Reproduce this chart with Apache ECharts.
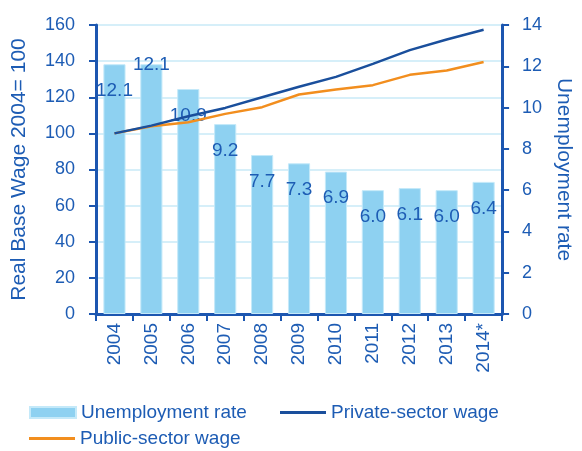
<!DOCTYPE html>
<html>
<head>
<meta charset="utf-8">
<script src="https://cdn.jsdelivr.net/npm/echarts@6/dist/echarts.min.js"></script>
<style>
  html, body { margin: 0; padding: 0; background: #fff; }
  #chart { width: 582px; height: 451px; }
</style>
</head>
<body>
<div id="chart"></div>
<script>
// Years on the category axis
const years = ['2004', '2005', '2006', '2007', '2008', '2009', '2010', '2011', '2012', '2013', '2014*'];
// Unemployment rate, % (right axis)
const unemploymentRate = [12.1, 12.1, 10.9, 9.2, 7.7, 7.3, 6.9, 6.0, 6.1, 6.0, 6.4];
// Real base wage index, 2004 = 100 (left axis)
const privateWage = [100, 104.3, 109.5, 114.1, 120, 125.8, 131.3, 138.5, 146.1, 152, 157.4];
const publicWage = [100, 104, 106.2, 110.8, 114.5, 121.5, 124.3, 126.7, 132.4, 134.8, 139.5];
// Tick values
const wageTicks = [0, 20, 40, 60, 80, 100, 120, 140, 160];
const rateTicks = [0, 2, 4, 6, 8, 10, 12, 14];

const TEXT = '#1d5cb4';
const AXIS = '#1c56b0';
const FONT = '"Liberation Sans", Arial, sans-serif';
const LINE_ICON = 'path://M0,0 L46,0 L46,3 L0,3 Z';

// The 2005 value label sits at the bar top rather than inside it
const raisedLabel = { '2005': [0, -26] };

const barData = unemploymentRate.map((v, i) => {
  const shift = raisedLabel[years[i]];
  return shift ? { value: v, label: { offset: shift } } : v;
});

const legendText = { fontSize: 19, color: TEXT, fontFamily: FONT };

const chart = echarts.init(document.getElementById('chart'), null, { renderer: 'canvas' });

chart.setOption({
  backgroundColor: '#ffffff',
  animation: false,
  textStyle: { fontFamily: FONT, color: TEXT },
  grid: { left: 96, right: 79, top: 25, bottom: 137, containLabel: false },
  legend: [
    {
      left: 29, top: 403, padding: 0, itemWidth: 46, itemHeight: 11, itemGap: 5,
      data: [{ name: 'Unemployment rate', icon: 'rect' }],
      textStyle: legendText
    },
    {
      left: 280, top: 403, padding: 0, itemWidth: 46, itemHeight: 3,
      data: [{ name: 'Private-sector wage', icon: LINE_ICON }],
      textStyle: legendText
    },
    {
      left: 29, top: 429, padding: 0, itemWidth: 46, itemHeight: 3,
      data: [{ name: 'Public-sector wage', icon: LINE_ICON }],
      textStyle: legendText
    }
  ],
  xAxis: {
    type: 'category',
    data: years,
    boundaryGap: true,
    axisLine: { show: true, lineStyle: { color: AXIS, width: 3 } },
    axisTick: { show: true, length: 7, lineStyle: { color: AXIS, width: 2 } },
    axisLabel: { rotate: 90, fontSize: 19, color: TEXT, margin: 9, fontFamily: FONT }
  },
  yAxis: [
    {
      type: 'value',
      min: wageTicks[0], max: wageTicks[wageTicks.length - 1], interval: 20,
      name: 'Real Base Wage 2004= 100',
      nameLocation: 'middle', nameGap: 66,
      nameTextStyle: { fontSize: 21, color: TEXT, fontFamily: FONT },
      axisLine: { show: true, lineStyle: { color: AXIS, width: 3 } },
      axisTick: { show: true, length: 7, lineStyle: { color: AXIS, width: 2 } },
      axisLabel: { fontSize: 18, color: TEXT, margin: 21, fontFamily: FONT },
      splitLine: { show: true, lineStyle: { color: '#d6eff9', width: 2 } }
    },
    {
      type: 'value',
      position: 'right',
      min: rateTicks[0], max: rateTicks[rateTicks.length - 1], interval: 2,
      name: 'Unemployment rate',
      nameLocation: 'middle', nameGap: 48, nameRotate: -90,
      nameTextStyle: { fontSize: 21, color: TEXT, fontFamily: FONT },
      axisLine: { show: true, lineStyle: { color: AXIS, width: 3 } },
      axisTick: { show: true, length: 7, lineStyle: { color: AXIS, width: 2 } },
      axisLabel: { fontSize: 18, color: TEXT, margin: 20, fontFamily: FONT },
      splitLine: { show: false }
    }
  ],
  series: [
    {
      name: 'Unemployment rate',
      type: 'bar',
      yAxisIndex: 1,
      data: barData,
      barWidth: '60%',
      itemStyle: { color: '#8ed1f1', borderColor: '#c4e9f9', borderWidth: 1 },
      label: {
        show: true,
        position: 'insideTop',
        distance: 17,
        fontSize: 19,
        color: TEXT,
        fontFamily: FONT,
        formatter: p => Number(p.value).toFixed(1)
      },
      z: 1
    },
    {
      name: 'Private-sector wage',
      type: 'line',
      yAxisIndex: 0,
      data: privateWage,
      symbol: 'none',
      lineStyle: { color: '#1a4f9c', width: 2.5 },
      itemStyle: { color: '#1a4f9c' },
      z: 3
    },
    {
      name: 'Public-sector wage',
      type: 'line',
      yAxisIndex: 0,
      data: publicWage,
      symbol: 'none',
      lineStyle: { color: '#f28e1e', width: 2.5 },
      itemStyle: { color: '#f28e1e' },
      z: 2
    }
  ]
});
</script>
</body>
</html>
